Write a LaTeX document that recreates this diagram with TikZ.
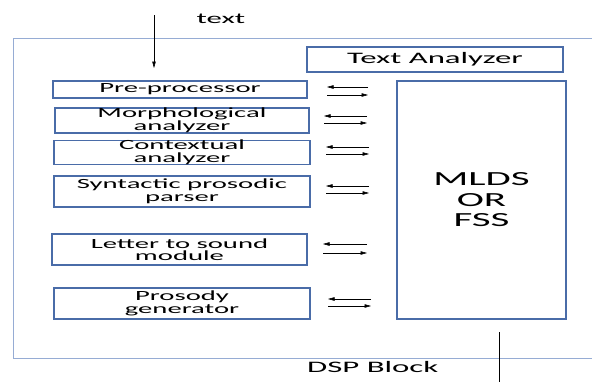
\documentclass[tikz,border=0pt]{standalone}
\usepackage{fontspec}
\newfontfamily\widefont[FakeStretch=2.05]{Carlito}
\usetikzlibrary{arrows.meta}
\definecolor{boxblue}{RGB}{74,108,168}
\definecolor{outerblue}{RGB}{150,172,212}
\tikzset{
  box/.style={draw=boxblue, line width=1.1pt, inner sep=0pt, align=center,
              font={\widefont\fontsize{14}{12.5}\selectfont}},
  arr/.style={line width=0.5pt, -{Triangle[length=6.5pt,width=3.5pt]}},
}
\begin{document}
\begin{tikzpicture}[x=1pt,y=-1pt]
\useasboundingbox (0,0) rectangle (592,381);
% outer block
\draw[outerblue, line width=0.9pt] (600,38) -- (13,38) -- (13,358) -- (600,358);
% input
\node[font={\widefont\fontsize{15}{15}\selectfont}] (txt) at (221,19) {text};
\coordinate (inA) at (154,15);
\coordinate (inB) at (154,68);
\draw[arr] (inA) -- (inB);
% boxes
\node[box, minimum width=256pt, minimum height=25pt, font={\widefont\fontsize{16}{16}\selectfont}] (ta) at (435,59.5) {Text Analyzer};
\node[box, minimum width=254pt, minimum height=17pt] (pre) at (180,89.5) {Pre-processor};
\node[box, minimum width=254pt, minimum height=25pt] (mor) at (182,120.5) {Morphological\\analyzer};
\node[box, minimum width=256pt, minimum height=23pt] (ctx) at (182,152.5) {Contextual\\analyzer};
\node[box, minimum width=256pt, minimum height=31pt] (syn) at (182,191.5) {Syntactic prosodic\\parser};
\node[box, minimum width=255pt, minimum height=31pt] (lts) at (179.5,249.5) {Letter to sound\\module};
\node[box, minimum width=256pt, minimum height=31pt] (pro) at (182,303.5) {Prosody\\generator};
\node[box, minimum width=169pt, minimum height=238pt, font={\widefont\fontsize{20}{20.5}\selectfont}] (mlds) at (481.5,200) {MLDS\\OR\\FSS};
% arrow pairs
\foreach \n/\xa/\xb/\ya/\yb in {1/327/368/87/95, 2/324/367/116/123, 3/326/369/147/154, 4/326/369/186/193, 5/323/367/244/253, 6/328/371/299/306}{
  \coordinate (l\n a) at (\xb,\ya);
  \coordinate (l\n b) at (\xa,\ya);
  \coordinate (r\n a) at (\xa,\yb);
  \coordinate (r\n b) at (\xb,\yb);
  \draw[arr] (l\n a) -- (l\n b);
  \draw[arr] (r\n a) -- (r\n b);
}
% output
\node[font={\widefont\fontsize{16}{16}\selectfont}, anchor=base west, inner sep=0pt] (dsp) at (307,372) {DSP Block};
\coordinate (outA) at (499,332);
\coordinate (outB) at (499,390);
\draw[arr] (outA) -- (outB);
\end{tikzpicture}
\end{document}
